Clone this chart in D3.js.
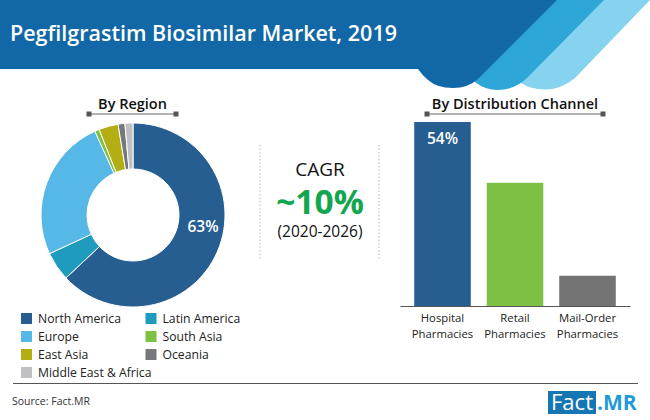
<html>
<script src='https://d3js.org/d3.v7.min.js'></script>
<style>
body {margin:0; background:white;}
text {font-family:'Open Sans',sans-serif;}
</style>
<body>
<svg id='chart' width=650 height=420></svg>
<script>
var regions = ["North America","Latin America","Europe","South Asia","East Asia","Oceania","Middle East & Africa"];
var regionValues = [63,5.1,25.1,0.8,3.4,1.2,1.4];
var regionColors = ["#265e92","#1f9bbd","#55b8e6","#7cc144","#b3ae14","#77787b","#c0c0c2"];
var channels = ["Hospital Pharmacies","Retail Pharmacies","Mail-Order Pharmacies"];
var channelLines = [["Hospital","Pharmacies"],["Retail","Pharmacies"],["Mail-Order","Pharmacies"]];
var channelValues = [54,36.2,9];
var channelColors = ["#265e92","#7cc144","#737373"];

var svg = d3.select("#chart");

// header band with the three lobes
var header = svg.append("g");
header.append("path").attr("fill","#85d3ee")
  .attr("d","M590,0 L650,0 L575,78 Q560,90 545,89.5 Q530,89 521,83 L500,60 Z");
header.append("path").attr("fill","#2fa6d8")
  .attr("d","M545,0 L604,0 L528,77 Q515,90 498,90 Q485,90 475,82 L460,60 Z");
header.append("path").attr("fill","#1268a6")
  .attr("d","M0,0 L557,0 L478,79 Q468,88 453,88 Q437,88 428,80 Q422,75 418,69 L0,69 Z");
svg.append("text").attr("x",10).attr("y",41)
  .attr("fill","white").attr("font-size",21.5).attr("font-weight",600)
  .text("Pegfilgrastim Biosimilar Market, 2019");

function subtitle(label,x0,x1) {
  var g = svg.append("g");
  g.append("text").attr("x",(x0+x1)/2).attr("y",109).attr("text-anchor","middle")
    .attr("font-size",14.5).attr("font-weight",600).attr("fill","#111").text(label);
  g.append("line").attr("x1",x0).attr("x2",x1).attr("y1",114).attr("y2",114)
    .attr("stroke","#666").attr("stroke-width",1);
  [x0,x1].forEach(function(x) {
    g.append("rect").attr("x",x-2.5).attr("y",111.5).attr("width",5).attr("height",5).attr("fill","#555");
  });
}
subtitle("By Region",89,176);
subtitle("By Distribution Channel",427,603);

// donut
var pie = d3.pie().sort(null).value(function(d) {return d;});
var arc = d3.arc().innerRadius(46).outerRadius(92);
var donut = svg.append("g").attr("transform","translate(133,215)");
donut.selectAll("path").data(pie(regionValues)).enter().append("path")
  .attr("d",arc)
  .attr("fill",function(d,i) {return regionColors[i];})
  .attr("stroke","white").attr("stroke-width",1);
svg.append("text").attr("x",203).attr("y",232).attr("text-anchor","middle")
  .attr("fill","white").attr("font-size",15.5).attr("font-weight",600).text("63%");

// legend
var legend = svg.append("g").selectAll("g").data(regions).enter().append("g")
  .attr("transform",function(d,i) {
    var col = i==6 ? 0 : i%2;
    return "translate("+(col==0?21:145.5)+","+(318.5+18*Math.floor(i/2))+")";
  });
legend.append("rect").attr("y",-5.5).attr("width",11).attr("height",11)
  .attr("fill",function(d,i) {return regionColors[i];});
legend.append("text").attr("x",17).attr("y",4.5).attr("font-size",12.2).attr("fill","#222")
  .text(function(d) {return d;});

// cagr
svg.selectAll(".sep").data([260,379]).enter().append("line").attr("class","sep")
  .attr("x1",function(d) {return d;}).attr("x2",function(d) {return d;})
  .attr("y1",145).attr("y2",260)
  .attr("stroke","#bbb").attr("stroke-dasharray","1.5,2");
svg.append("text").attr("x",320).attr("y",176).attr("text-anchor","middle")
  .attr("font-size",19).attr("fill","#111").text("CAGR");
svg.append("text").attr("x",320).attr("y",214).attr("text-anchor","middle")
  .attr("font-size",33.5).attr("font-weight",700).attr("fill","#12a650").text("~10%");
svg.append("text").attr("x",320).attr("y",237).attr("text-anchor","middle")
  .attr("font-size",15.5).attr("fill","#111").text("(2020-2026)");

// bars
var x = d3.scaleBand().domain(channels).range([400,630]).paddingInner(0.22).paddingOuter(0.196);
var y = d3.scaleLinear().domain([0,54]).range([306.5,122]);
svg.selectAll(".bar").data(channelValues).enter().append("rect").attr("class","bar")
  .attr("x",function(d,i) {return x(channels[i]);})
  .attr("y",function(d) {return y(d);})
  .attr("width",x.bandwidth())
  .attr("height",function(d) {return y(0)-y(d);})
  .attr("fill",function(d,i) {return channelColors[i];});
svg.append("text").attr("x",x(channels[0])+x.bandwidth()/2).attr("y",144).attr("text-anchor","middle")
  .attr("fill","white").attr("font-size",15.5).attr("font-weight",600).text("54%");

var xAxis = d3.axisBottom(x).tickSize(0).tickFormat("");
var axisG = svg.append("g").attr("transform","translate(0,306)").call(xAxis);
axisG.select(".domain").attr("stroke","#555");
axisG.selectAll(".tick text").remove();
axisG.selectAll(".tick").append("text").attr("text-anchor","middle")
  .attr("font-size",11.3).attr("fill","#222")
  .each(function(d,i) {
    d3.select(this).selectAll("tspan").data(channelLines[i]).enter().append("tspan")
      .attr("x",0).attr("y",function(t,j) {return 16+j*16;})
      .text(function(t) {return t;});
  });

// footer
svg.append("line").attr("x1",13).attr("x2",638).attr("y1",383.5).attr("y2",383.5)
  .attr("stroke","#555").attr("stroke-width",1);
svg.append("text").attr("x",12).attr("y",405).attr("font-size",10.5).attr("fill","#333").text("Source: Fact.MR");
svg.append("rect").attr("x",548).attr("y",391).attr("width",48).attr("height",23).attr("fill","#1675b3");
svg.append("text").attr("x",572).attr("y",410).attr("text-anchor","middle")
  .attr("font-size",22).attr("fill","white").text("Fact");
svg.append("text").attr("x",597).attr("y",410)
  .attr("font-size",21).attr("font-weight",700).attr("fill","#1f9bd7").text(".MR");
</script>
</body>
</html>
